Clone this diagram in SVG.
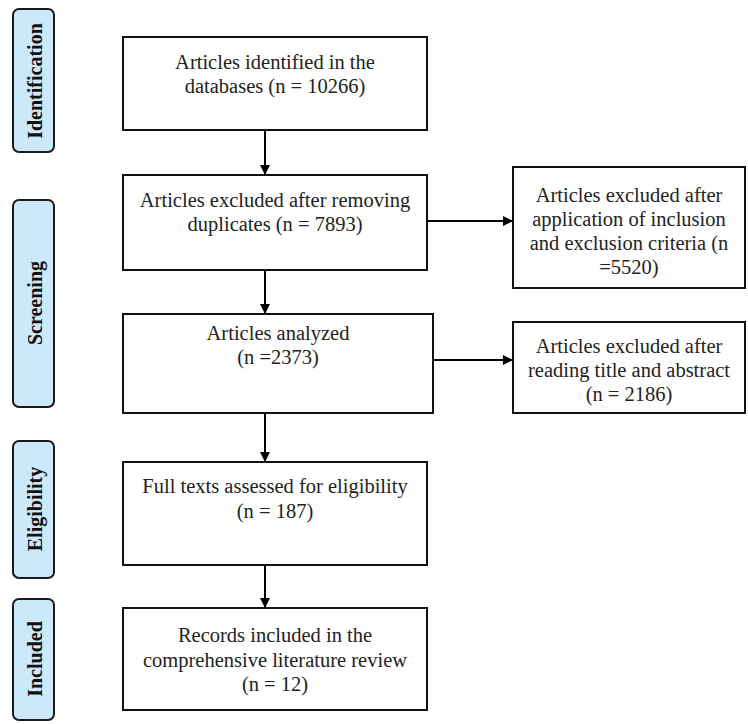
<svg xmlns="http://www.w3.org/2000/svg" width="748" height="724" viewBox="0 0 748 724">
<defs>
<marker id="ah" viewBox="0 0 10 10" refX="10" refY="5" markerWidth="10" markerHeight="10" markerUnits="userSpaceOnUse" orient="auto">
<path d="M0,0 L10,5 L0,10 Z" fill="#000"/>
</marker>
<style>
.box{fill:#fff;stroke:#111;stroke-width:2}
.lab{fill:#cce8fb;stroke:#1a1a1a;stroke-width:2}
.c{stroke:#000;stroke-width:2;fill:none;marker-end:url(#ah)}
</style>
</defs>
<rect width="748" height="724" fill="#fff"/>
<g id="label-identification"><rect class="lab" x="13" y="9" width="41" height="143" rx="6"/><text style="font-family:'Liberation Serif',serif;font-size:20px;font-weight:bold" fill="#111" text-anchor="middle" transform="translate(42,81) rotate(-90)">Identification</text></g>
<g id="label-screening"><rect class="lab" x="13" y="200" width="41" height="207" rx="6"/><text style="font-family:'Liberation Serif',serif;font-size:20px;font-weight:bold" fill="#111" text-anchor="middle" transform="translate(42,303) rotate(-90)">Screening</text></g>
<g id="label-eligibility"><rect class="lab" x="13" y="441" width="41" height="137" rx="6"/><text style="font-family:'Liberation Serif',serif;font-size:20px;font-weight:bold" fill="#111" text-anchor="middle" transform="translate(42,509) rotate(-90)">Eligibility</text></g>
<g id="label-included"><rect class="lab" x="13" y="599" width="41" height="121" rx="6"/><text style="font-family:'Liberation Serif',serif;font-size:20px;font-weight:bold" fill="#111" text-anchor="middle" transform="translate(42,659) rotate(-90)">Included</text></g>
<g id="n1"><rect class="box" x="123" y="37" width="304" height="93"/><text style="font-family:'Liberation Serif',serif;font-size:20.5px" fill="#222" text-anchor="middle" x="275" y="69">Articles identified in the</text><text style="font-family:'Liberation Serif',serif;font-size:20.5px" fill="#222" text-anchor="middle" x="275" y="93">databases (n = 10266)</text></g>
<g id="n2"><rect class="box" x="123" y="175" width="304" height="95"/><text style="font-family:'Liberation Serif',serif;font-size:20.5px" fill="#222" text-anchor="middle" x="275" y="207">Articles excluded after removing</text><text style="font-family:'Liberation Serif',serif;font-size:20.5px" fill="#222" text-anchor="middle" x="275" y="231">duplicates (n = 7893)</text></g>
<g id="n3"><rect class="box" x="513" y="167" width="232" height="121"/><text style="font-family:'Liberation Serif',serif;font-size:20.5px" fill="#222" text-anchor="middle" x="629" y="202">Articles excluded after</text><text style="font-family:'Liberation Serif',serif;font-size:20.5px" fill="#222" text-anchor="middle" x="629" y="226">application of inclusion</text><text style="font-family:'Liberation Serif',serif;font-size:20.5px" fill="#222" text-anchor="middle" x="629" y="250">and exclusion criteria (n</text><text style="font-family:'Liberation Serif',serif;font-size:20.5px" fill="#222" text-anchor="middle" x="629" y="274">=5520)</text></g>
<g id="n4"><rect class="box" x="123" y="314" width="310" height="99"/><text style="font-family:'Liberation Serif',serif;font-size:20.5px" fill="#222" text-anchor="middle" x="278" y="340">Articles analyzed</text><text style="font-family:'Liberation Serif',serif;font-size:20.5px" fill="#222" text-anchor="middle" x="278" y="364">(n =2373)</text></g>
<g id="n5"><rect class="box" x="513" y="322" width="232" height="91"/><text style="font-family:'Liberation Serif',serif;font-size:20.5px" fill="#222" text-anchor="middle" x="629" y="353">Articles excluded after</text><text style="font-family:'Liberation Serif',serif;font-size:20.5px" fill="#222" text-anchor="middle" x="629" y="377">reading title and abstract</text><text style="font-family:'Liberation Serif',serif;font-size:20.5px" fill="#222" text-anchor="middle" x="629" y="401">(n = 2186)</text></g>
<g id="n6"><rect class="box" x="123" y="462" width="304" height="103"/><text style="font-family:'Liberation Serif',serif;font-size:20.5px" fill="#222" text-anchor="middle" x="275" y="493">Full texts assessed for eligibility</text><text style="font-family:'Liberation Serif',serif;font-size:20.5px" fill="#222" text-anchor="middle" x="275" y="518">(n = 187)</text></g>
<g id="n7"><rect class="box" x="123" y="608" width="304" height="102"/><text style="font-family:'Liberation Serif',serif;font-size:20.5px" fill="#222" text-anchor="middle" x="275" y="642">Records included in the</text><text style="font-family:'Liberation Serif',serif;font-size:20.5px" fill="#222" text-anchor="middle" x="275" y="667">comprehensive literature review</text><text style="font-family:'Liberation Serif',serif;font-size:20.5px" fill="#222" text-anchor="middle" x="275" y="691">(n = 12)</text></g>
<g id="connectors">
<line class="c" x1="265" y1="130" x2="265" y2="175"/>
<line class="c" x1="427" y1="221" x2="513" y2="221"/>
<line class="c" x1="265" y1="270" x2="265" y2="314"/>
<line class="c" x1="433" y1="360" x2="513" y2="360"/>
<line class="c" x1="265" y1="413" x2="265" y2="462"/>
<line class="c" x1="265" y1="565" x2="265" y2="608"/>
</g>
</svg>
